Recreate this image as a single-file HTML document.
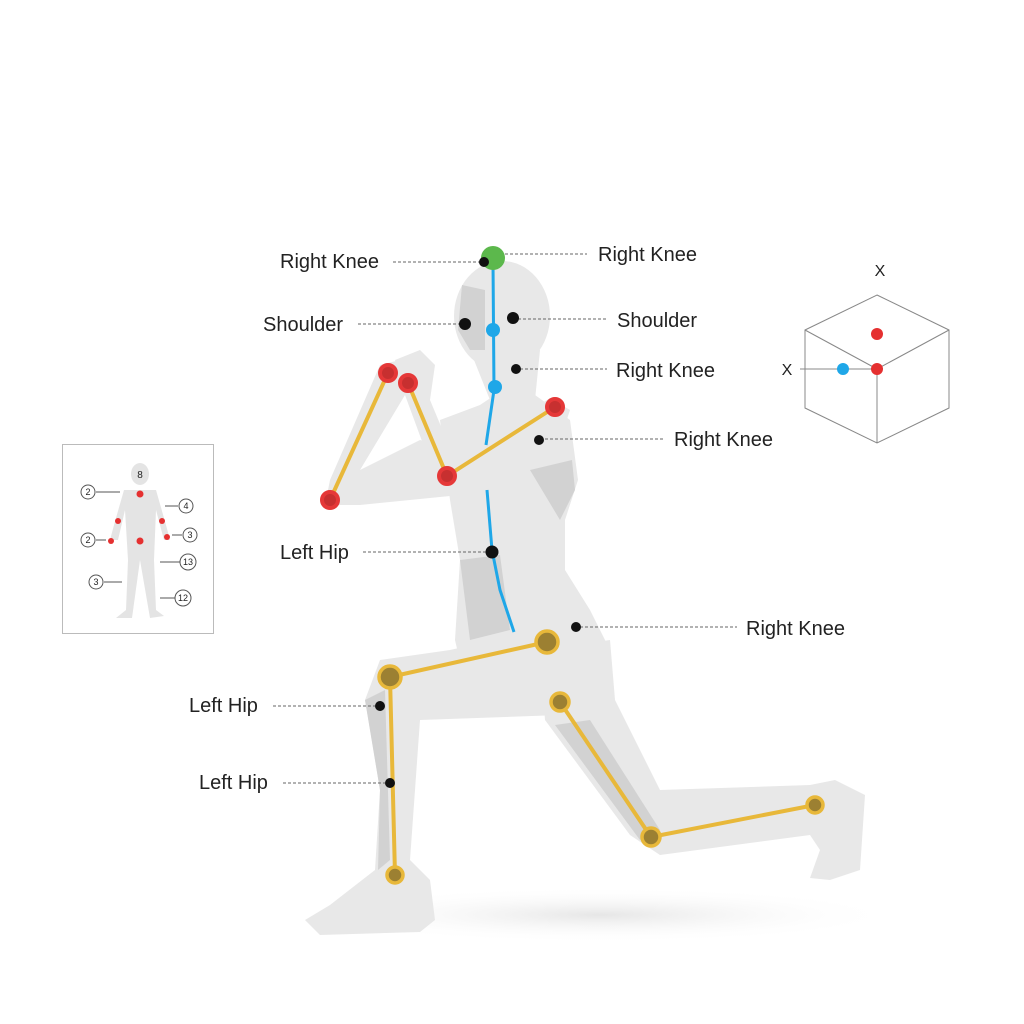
<!DOCTYPE html>
<html><head><meta charset="utf-8"><style>
body{margin:0;background:#fff}
svg{display:block}
text{font-family:"Liberation Sans",sans-serif;fill:#222}
</style></head><body>
<svg width="1024" height="1024" viewBox="0 0 1024 1024">
<defs><radialGradient id="sh" cx="0.5" cy="0.5" r="0.5"><stop offset="0" stop-color="#e6e6e6"/><stop offset="1" stop-color="#fff" stop-opacity="0"/></radialGradient></defs>
<ellipse cx="600" cy="915" rx="300" ry="28" fill="url(#sh)"/>
<g fill="#e8e8e8">
<path d="M540 650 L610 640 L615 700 L660 790 L810 785 L835 780 L865 795 L860 870 L830 880 L810 878 L820 850 L810 835 L660 855 L630 835 L545 720 Z"/>
<path d="M440 420 L480 405 L495 395 L535 395 L570 420 L578 480 L565 520 L565 570 L590 610 L610 650 L605 690 L570 700 L470 705 L455 640 L460 560 L450 500 Z"/>
<path d="M380 660 L450 650 L540 630 L600 640 L605 700 L560 715 L420 720 L415 790 L410 860 L430 880 L435 920 L420 932 L320 935 L305 920 L330 905 L375 870 L380 790 L365 700 Z"/>
<ellipse cx="502" cy="316" rx="48" ry="55"/>
<path d="M470 350 L540 350 L535 400 L490 400 Z"/>
<path d="M380 365 L400 360 L420 370 L360 470 L420 440 L470 455 L460 495 L360 505 L325 505 L330 480 Z"/>
<path d="M395 360 L420 350 L435 365 L430 400 L455 460 L550 398 L570 410 L560 440 L460 495 L440 490 L405 395 Z"/>
</g>
<g fill="#d2d2d2">
<path d="M462 285 L485 290 L485 350 L470 350 L458 330 Z"/>
<path d="M460 560 L500 555 L510 630 L470 640 Z"/>
<path d="M530 470 L572 460 L575 490 L560 520 Z"/>
<path d="M365 700 L385 690 L390 860 L378 870 L380 790 Z"/>
<path d="M555 725 L590 720 L660 830 L640 840 Z"/>
</g>
<rect x="62.5" y="444.5" width="151" height="189" fill="#fff" stroke="#bbb"/>
<g fill="#e4e4e4">
<ellipse cx="140" cy="474" rx="9" ry="11"/>
<path d="M124 490 L156 490 L166 525 L170 540 L164 540 L156 510 L154 560 L156 610 L164 616 L150 618 L140 560 L132 618 L116 618 L126 610 L128 560 L125 510 L118 540 L110 540 L114 525 Z"/>
</g>
<text x="140" y="478" font-size="10" text-anchor="middle">8</text>
<g fill="#e53030"><circle cx="140" cy="494" r="3.5"/><circle cx="118" cy="521" r="3"/><circle cx="162" cy="521" r="3"/><circle cx="111" cy="541" r="3"/><circle cx="167" cy="537" r="3"/><circle cx="140" cy="541" r="3.5"/></g>
<g stroke="#555" stroke-width="1" fill="#fff">
<line x1="96" y1="492" x2="120" y2="492"/><line x1="165" y1="506" x2="178" y2="506"/>
<line x1="96" y1="540" x2="106" y2="540"/><line x1="172" y1="535" x2="182" y2="535"/>
<line x1="160" y1="562" x2="180" y2="562"/><line x1="104" y1="582" x2="122" y2="582"/>
<line x1="160" y1="598" x2="176" y2="598"/>
<circle cx="88" cy="492" r="7"/><circle cx="186" cy="506" r="7"/><circle cx="88" cy="540" r="7"/><circle cx="190" cy="535" r="7"/><circle cx="188" cy="562" r="8"/><circle cx="96" cy="582" r="7"/><circle cx="183" cy="598" r="8"/>
</g>
<g font-size="9" text-anchor="middle"><text x="88" y="495">2</text><text x="186" y="509">4</text><text x="88" y="543">2</text><text x="190" y="538">3</text><text x="188" y="565">13</text><text x="96" y="585">3</text><text x="183" y="601">12</text></g>
<g stroke="#888" stroke-width="1" fill="none">
<path d="M877 295 L949 330 L949 408 L877 443 L805 408 L805 330 Z"/>
<path d="M805 330 L877 369 L949 330 M877 369 L877 443"/>
<line x1="800" y1="369" x2="877" y2="369"/>
</g>
<circle cx="877" cy="334" r="6" fill="#e53030"/><circle cx="877" cy="369" r="6" fill="#e53030"/><circle cx="843" cy="369" r="6" fill="#1fa7e8"/>
<text x="880" y="276" font-size="16" text-anchor="middle">X</text>
<text x="787" y="375" font-size="16" text-anchor="middle">X</text>
<path d="M493 262 L494 390 L486 445" stroke="#1fa7e8" stroke-width="3" fill="none"/>
<path d="M487 490 L492 550 L500 590 L514 632" stroke="#1fa7e8" stroke-width="3" fill="none"/>
<circle cx="493" cy="330" r="7" fill="#1fa7e8"/><circle cx="495" cy="387" r="7" fill="#1fa7e8"/>
<circle cx="493" cy="258" r="12" fill="#5cb84c"/>
<g stroke="#e8b83a" stroke-width="4" fill="none">
<path d="M388 373 L330 500"/><path d="M408 383 L447 476 L555 407"/>
<path d="M547 642 L390 677 L395 875"/><path d="M560 702 L651 837 L815 805"/>
</g>
<g fill="#c73030" stroke="#e53838" stroke-width="4">
<circle cx="388" cy="373" r="8"/><circle cx="408" cy="383" r="8"/><circle cx="330" cy="500" r="8"/><circle cx="447" cy="476" r="8"/><circle cx="555" cy="407" r="8"/>
</g>
<g fill="#9c8032" stroke="#e8b83a" stroke-width="3.5">
<circle cx="547" cy="642" r="11"/><circle cx="390" cy="677" r="11"/><circle cx="395" cy="875" r="8"/><circle cx="560" cy="702" r="9"/><circle cx="651" cy="837" r="9"/><circle cx="815" cy="805" r="8"/>
</g>
<g stroke="#666" stroke-width="1" stroke-dasharray="3,2">
<line x1="393" y1="262" x2="480" y2="262"/><line x1="505" y1="254" x2="587" y2="254"/>
<line x1="358" y1="324" x2="460" y2="324"/><line x1="518" y1="319" x2="607" y2="319"/>
<line x1="520" y1="369" x2="607" y2="369"/><line x1="545" y1="439" x2="665" y2="439"/>
<line x1="363" y1="552" x2="488" y2="552"/><line x1="580" y1="627" x2="737" y2="627"/>
<line x1="273" y1="706" x2="375" y2="706"/><line x1="283" y1="783" x2="385" y2="783"/>
</g>
<g fill="#111">
<circle cx="484" cy="262" r="5"/><circle cx="465" cy="324" r="6"/><circle cx="513" cy="318" r="6"/><circle cx="516" cy="369" r="5"/><circle cx="539" cy="440" r="5"/><circle cx="492" cy="552" r="6.5"/><circle cx="576" cy="627" r="5"/><circle cx="380" cy="706" r="5"/><circle cx="390" cy="783" r="5"/>
</g>
<g font-size="20">
<text x="280" y="268">Right Knee</text><text x="598" y="261">Right Knee</text>
<text x="263" y="331">Shoulder</text><text x="617" y="327">Shoulder</text>
<text x="616" y="377">Right Knee</text><text x="674" y="446">Right Knee</text>
<text x="280" y="559">Left Hip</text><text x="746" y="635">Right Knee</text>
<text x="189" y="712">Left Hip</text><text x="199" y="789">Left Hip</text>
</g>
</svg>
</body></html>
